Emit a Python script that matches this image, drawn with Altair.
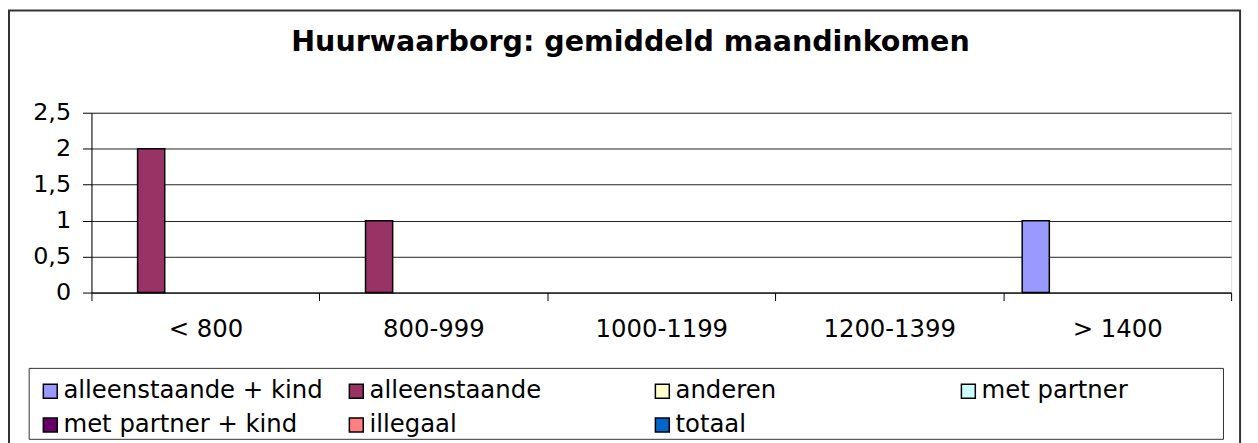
import altair as alt
import pandas as pd

# ---- data ----
categories = ["< 800", "800-999", "1000-1199", "1200-1399", "> 1400"]
series = [
    "alleenstaande + kind",
    "alleenstaande",
    "anderen",
    "met partner",
    "met partner + kind",
    "illegaal",
    "totaal",
]
colors = ["#9999FF", "#993366", "#FFFFCC", "#CCFFFF", "#660066", "#FF8080", "#0066CC"]

vals_alleenstaande_kind = [0, 0, 0, 0, 1]
vals_alleenstaande = [2, 1, 0, 0, 0]
vals_anderen = [0, 0, 0, 0, 0]
vals_met_partner = [0, 0, 0, 0, 0]
vals_met_partner_kind = [0, 0, 0, 0, 0]
vals_illegaal = [0, 0, 0, 0, 0]
vals_totaal = [0, 0, 0, 0, 0]

y_ticks = [0, 0.5, 1, 1.5, 2, 2.5]
title_text = "Huurwaarborg: gemiddeld maandinkomen"

all_vals = [
    vals_alleenstaande_kind,
    vals_alleenstaande,
    vals_anderen,
    vals_met_partner,
    vals_met_partner_kind,
    vals_illegaal,
    vals_totaal,
]
rows = []
for s, vs in zip(series, all_vals):
    for c, v in zip(categories, vs):
        rows.append({"categorie": c, "serie": s, "waarde": v})
df = pd.DataFrame(rows)

FONT = "DejaVu Sans"
W, H = 1147, 181

bars = (
    alt.Chart(df)
    .transform_filter("datum.waarde > 0")
    .mark_bar(stroke="black", strokeWidth=1.5)
    .encode(
        x=alt.X(
            "categorie:N",
            sort=categories,
            scale=alt.Scale(domain=categories, paddingInner=0, paddingOuter=0),
            axis=alt.Axis(
                title=None,
                labelAngle=0,
                tickBand="extent",
                tickSize=8,
                tickColor="black",
                domainColor="black",
                labelPadding=17,
                labelFont=FONT,
                labelFontSize=24.5,
                labelColor="black",
                grid=False,
            ),
        ),
        xOffset=alt.XOffset(
            "serie:N",
            sort=series,
            scale=alt.Scale(domain=series, paddingInner=0, paddingOuter=0.7),
        ),
        y=alt.Y(
            "waarde:Q",
            scale=alt.Scale(domain=[0, 2.5], nice=False),
            axis=alt.Axis(
                title=None,
                values=y_ticks,
                labelExpr="replace(format(datum.value, '~g'), '.', ',')",
                tickSize=9,
                tickColor="black",
                domainColor="black",
                labelPadding=12,
                labelFont=FONT,
                labelFontSize=24,
                labelColor="black",
                grid=True,
                gridColor="#222222",
                gridWidth=1,
            ),
        ),
        color=alt.Color(
            "serie:N",
            scale=alt.Scale(domain=series, range=colors),
            legend=alt.Legend(
                title=None,
                orient="none",
                legendX=-62.7,
                legendY=259,
                direction="horizontal",
                columns=4,
                gridAlign="all",
                columnPadding=21,
                rowPadding=9,
                padding=9,
                symbolType="square",
                symbolSize=196,
                symbolStrokeColor="black",
                symbolStrokeWidth=1.5,
                labelOffset=1,
                labelFont=FONT,
                labelFontSize=24.5,
                labelColor="black",
                labelLimit=500,
            ),
        ),
    )
)

# outer chart frame
frame = (
    alt.Chart(alt.Data(values=[{"k": 1}]))
    .mark_rect(fillOpacity=0, stroke="#333333", strokeWidth=2)
    .encode(
        x=alt.value(-83),
        x2=alt.value(1156),
        y=alt.value(-103),
        y2=alt.value(360),
    )
)

# legend box
legend_box = (
    alt.Chart(alt.Data(values=[{"k": 1}]))
    .mark_rect(fill="white", stroke="#333333", strokeWidth=1)
    .encode(
        x=alt.value(-62.7),
        x2=alt.value(1139.3),
        y=alt.value(257.3),
        y2=alt.value(328.7),
    )
)

# chart title as a text mark
title = (
    alt.Chart(alt.Data(values=[{"t": title_text}]))
    .mark_text(
        font=FONT,
        fontSize=28.7,
        fontWeight="bold",
        color="black",
        align="center",
        baseline="alphabetic",
    )
    .encode(text="t:N", x=alt.value(542.5), y=alt.value(-62))
)

chart = (
    alt.layer(frame, legend_box, title, bars)
    .properties(
        width=W,
        height=H,
        autosize=alt.AutoSizeParams(type="none"),
        padding={"left": 84, "top": 104, "right": 19, "bottom": 150},
    )
    .configure_view(fill="#C0C0C0", stroke="#808080", strokeWidth=1.5)
    .configure(background="white")
)

chart.save("out.html", embed_options={"renderer": "svg", "actions": False})
